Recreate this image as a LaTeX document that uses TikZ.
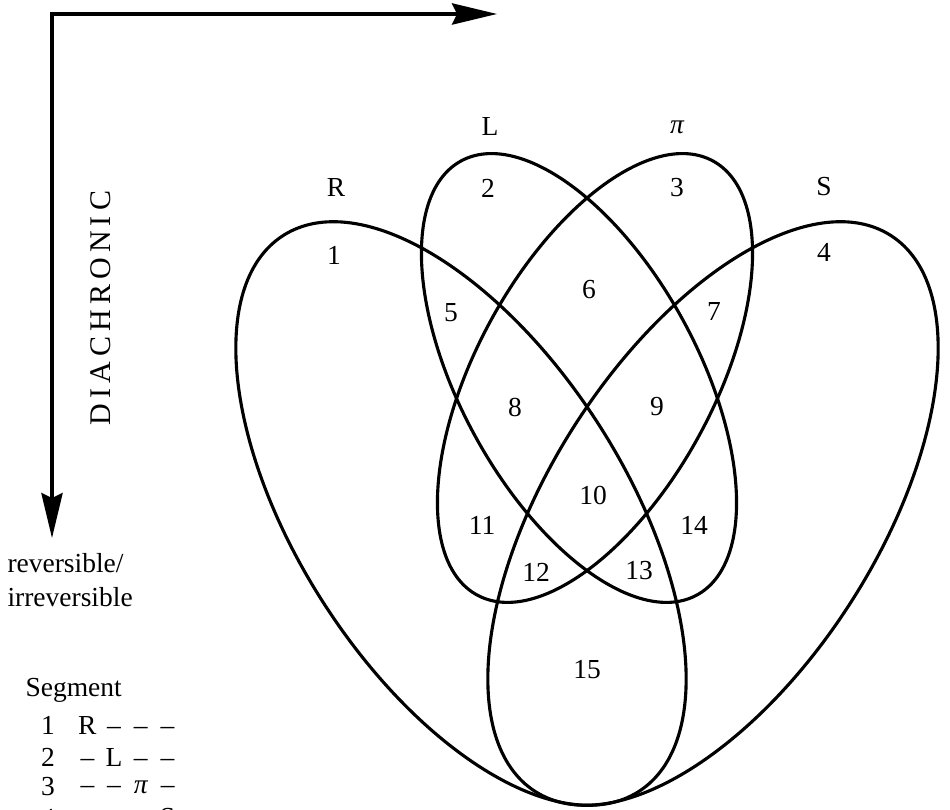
\documentclass[tikz,border=0pt]{standalone}
\usepackage{fontspec}
\setmainfont{Liberation Serif}
\usetikzlibrary{arrows.meta}

\tikzset{
  set line/.style={line width=1.25pt},
  region/.style={font=\fontsize{11}{13.6}\selectfont, inner sep=0pt},
  axis/.style={line width=1.25pt,
    {Stealth[length=18pt,width=8.5pt,inset=2pt]}-{Stealth[length=18pt,width=8.5pt,inset=2pt]}}
}
\newcommand{\cell}[1]{\makebox[10.7pt]{#1}}

\begin{document}
\begin{tikzpicture}[x=0.4pt,y=-0.4pt]
  \useasboundingbox (0,0) rectangle (950,810);
  % the two axes
  \coordinate (corner) at (52,14);
  \coordinate (synch end) at (497,14);
  \coordinate (diach end) at (52,538);
  \draw[axis] (synch end) -- (corner) -- (diach end);
  \node[region,font=\fontsize{12}{14}\selectfont,rotate=90] (diach) at (101,308)
    {\addfontfeature{LetterSpace=17}DIACHRONIC};
  \node[region,anchor=west,align=left] (rev) at (7,580) {reversible/\\irreversible};

  % the four sets
  \coordinate (R c) at (461,513.5);
  \coordinate (S c) at (713,513.5);
  \coordinate (L c) at (579,378);
  \coordinate (pi c) at (595,378);
  \draw[set line,rotate around={32.6:(R c)}] (R c) ellipse [x radius=164,y radius=330];
  \draw[set line,rotate around={-32.6:(S c)}] (S c) ellipse [x radius=164,y radius=330];
  \draw[set line,rotate around={28.5:(L c)}] (L c) ellipse [x radius=119,y radius=247];
  \draw[set line,rotate around={-28.5:(pi c)}] (pi c) ellipse [x radius=119,y radius=247];

  % set names
  \node[region] (lR) at (336,188) {R};
  \node[region] (lL) at (490,127) {L};
  \node[region] (lpi) at (677,127) {\itshape π};
  \node[region] (lS) at (824,187) {S};

  % segments
  \node[region] (s1) at (334,255) {1};
  \node[region] (s2) at (488,188) {2};
  \node[region] (s3) at (677,188) {3};
  \node[region] (s4) at (824,252) {4};
  \node[region] (s5) at (451,313) {5};
  \node[region] (s6) at (589,290) {6};
  \node[region] (s7) at (714,312) {7};
  \node[region] (s8) at (515,407) {8};
  \node[region] (s9) at (657,407) {9};
  \node[region] (s10) at (593,495) {10};
  \node[region] (s11) at (482,525) {11};
  \node[region] (s12) at (536,572) {12};
  \node[region] (s13) at (639,571) {13};
  \node[region] (s14) at (694,525) {14};
  \node[region] (s15) at (587,670) {15};

  % legend
  \node[region,anchor=west] (seg) at (25,690) {Segment};
  \node[region] (n1) at (48,725) {1};
  \node[region] (n2) at (48,757) {2};
  \node[region] (n3) at (48,787) {3};
  \node[region] (n4) at (48,818) {4};
  \node[region,anchor=west] (row1) at (73.5,725) {\cell{R}\cell{--}\cell{--}\cell{--}};
  \node[region,anchor=west] (row2) at (73.5,757) {\cell{--}\cell{L}\cell{--}\cell{--}};
  \node[region,anchor=west] (row3) at (73.5,787) {\cell{--}\cell{--}\cell{\itshape π}\cell{--}};
  \node[region,anchor=west] (row4) at (73.5,818) {\cell{--}\cell{--}\cell{--}\cell{S}};
\end{tikzpicture}
\end{document}
